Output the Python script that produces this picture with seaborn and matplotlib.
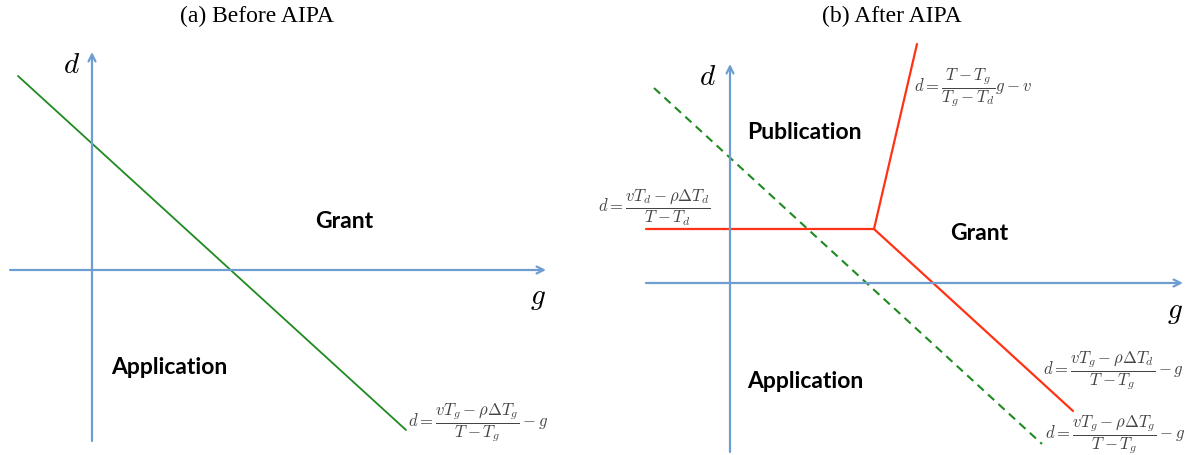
import numpy as np
import pandas as pd
import matplotlib
matplotlib.use("Agg")
import matplotlib.pyplot as plt
import seaborn as sns

sns.set_style("white")
plt.rcParams["mathtext.fontset"] = "cm"
plt.rcParams["text.color"] = "black"

# datos del diagrama (unidades del dibujo, origen en el cruce de ejes)
# panel (a) antes de AIPA
a_eje_g = [-82, 454]
a_eje_d = [-171, 218]
a_frontera_g = [-74, 314]
a_frontera_d = [194, -160]

# panel (b) despues de AIPA
b_eje_g = [-84, 453]
b_eje_d = [-169, 219]
b_pub_g = [-84, 144]
b_pub_d = [54, 54]
b_sube_g = [144, 187]
b_sube_d = [54, 239]
b_baja_g = [144, 343]
b_baja_d = [54, -128]
b_vieja_g = [-76, 312]
b_vieja_d = [195, -161]

titulos = ["(a) Before AIPA", "(b) After AIPA"]
f_a = r"$d=\dfrac{vT_g-\rho\Delta T_g}{T-T_g}-g$"
f_arriba = r"$d=\dfrac{T-T_g}{T_g-T_d}g-v$"
f_izq = r"$d=\dfrac{vT_d-\rho\Delta T_d}{T-T_d}$"
f_baja = r"$d=\dfrac{vT_g-\rho\Delta T_d}{T-T_g}-g$"
f_vieja = r"$d=\dfrac{vT_g-\rho\Delta T_g}{T-T_g}-g$"

azul = "#6d9dd1"
verde = "#1f8a1f"
rojo = "#ff3214"
gris = "#444444"
etiqueta = dict(fontsize=16.5, fontweight="bold", family="Lato", ha="center", va="center",
                color="black")
formula = dict(fontsize=12, color=gris, ha="center", va="center")

fig = plt.figure(figsize=(11.95, 4.56), dpi=100)
ax1 = fig.add_axes([0, 0, 0.5, 1])
ax2 = fig.add_axes([0.5, 0, 0.5, 1])
ax1.set_xlim(-92, 505.5)
ax1.set_ylim(-185, 271)
ax2.set_xlim(-132.5, 465)
ax2.set_ylim(-172, 284)


def ejes(ax, eg, ed):
    flecha = dict(arrowstyle="->,head_length=0.5,head_width=0.25", color=azul, lw=1.6,
                  shrinkA=0, shrinkB=0)
    ax.annotate("", xy=(eg[1], 0), xytext=(eg[0], 0), arrowprops=flecha)
    ax.annotate("", xy=(0, ed[1]), xytext=(0, ed[0]), arrowprops=flecha)


# panel a
ejes(ax1, a_eje_g, a_eje_d)
sns.lineplot(x=a_frontera_g, y=a_frontera_d, ax=ax1, color=verde, lw=1.3)
ax1.text(-20, 206, "$d$", fontsize=21, ha="center", va="center")
ax1.text(446, -27, "$g$", fontsize=21, ha="center", va="center")
ax1.text(252, 50, "Grant", **etiqueta)
ax1.text(77, -97, "Application", **etiqueta)
ax1.text(386, -152, f_a, **formula)
ax1.text(165, 255, titulos[0], fontsize=17, family="Liberation Serif", ha="center", va="center")

# panel b
ejes(ax2, b_eje_g, b_eje_d)
sns.lineplot(x=b_vieja_g, y=b_vieja_d, ax=ax2, color=verde, lw=1.5, linestyle=(0, (4, 2.8)))
for gg, dd in [(b_pub_g, b_pub_d), (b_sube_g, b_sube_d), (b_baja_g, b_baja_d)]:
    sns.lineplot(x=gg, y=dd, ax=ax2, color=rojo, lw=1.6, sort=False)
ax2.text(-22, 207, "$d$", fontsize=21, ha="center", va="center")
ax2.text(445, -28, "$g$", fontsize=21, ha="center", va="center")
ax2.text(74, 152, "Publication", **etiqueta)
ax2.text(249, 51, "Grant", **etiqueta)
ax2.text(75, -97, "Application", **etiqueta)
ax2.text(243, 196, f_arriba, **formula)
ax2.text(-76, 76, f_izq, **formula)
ax2.text(383, -87, f_baja, **formula)
ax2.text(385, -151, f_vieja, **formula)
ax2.text(162, 268, titulos[1], fontsize=17, family="Liberation Serif", ha="center", va="center")

for ax in (ax1, ax2):
    ax.set_axis_off()

fig.savefig("out.png", dpi=100)
